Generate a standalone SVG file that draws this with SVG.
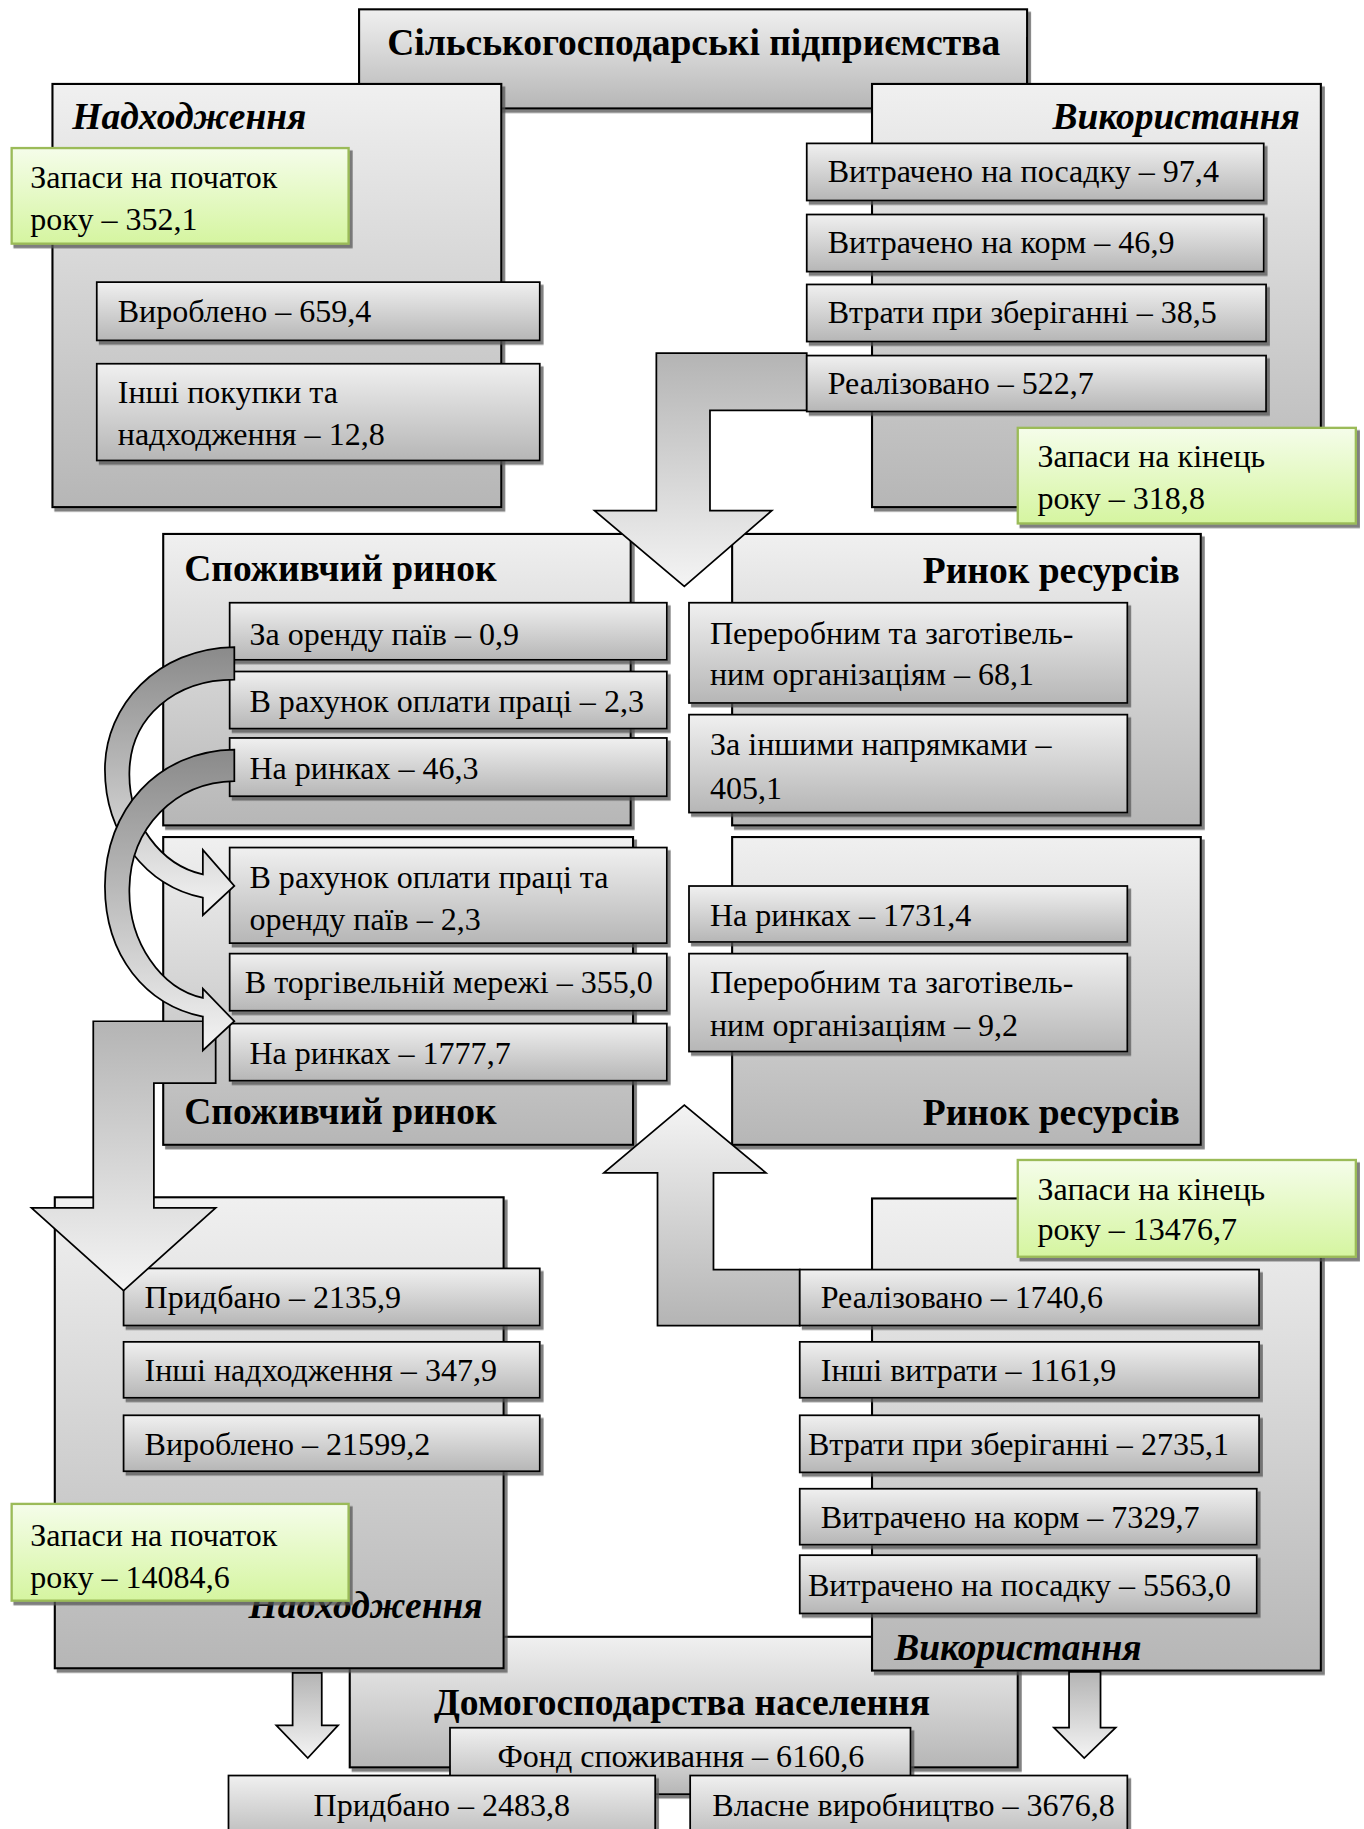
<svg xmlns="http://www.w3.org/2000/svg" width="1364" height="1829" viewBox="0 0 1364 1829">
<defs>
<linearGradient id="gBox" x1="0" y1="0" x2="0" y2="1"><stop offset="0" stop-color="#f0f0f0"/><stop offset="1" stop-color="#b6b6b6"/></linearGradient>
<linearGradient id="gGreen" x1="0" y1="0" x2="0" y2="1"><stop offset="0" stop-color="#f5fdea"/><stop offset="1" stop-color="#d5f5a0"/></linearGradient>
<linearGradient id="gDown" x1="0" y1="0" x2="0" y2="1"><stop offset="0" stop-color="#b4b4b4"/><stop offset="1" stop-color="#f4f4f4"/></linearGradient>
<linearGradient id="gUp" x1="0" y1="1" x2="0" y2="0"><stop offset="0" stop-color="#b4b4b4"/><stop offset="1" stop-color="#f4f4f4"/></linearGradient>
<linearGradient id="gCurve" x1="0" y1="0" x2="0" y2="1"><stop offset="0" stop-color="#8a8a8a"/><stop offset="0.45" stop-color="#b8b8b8"/><stop offset="1" stop-color="#f4f4f4"/></linearGradient>
<filter id="sh" x="-5%" y="-5%" width="115%" height="120%"><feDropShadow dx="2.5" dy="3" stdDeviation="0.6" flood-color="#555" flood-opacity="0.75"/></filter>
<clipPath id="clipUse"><rect x="748" y="1028" width="385" height="405"/></clipPath>
<style>
.cont{fill:url(#gBox);stroke:#000;stroke-width:1.8;filter:url(#sh)}
.item{fill:url(#gBox);stroke:#000;stroke-width:1.5;filter:url(#sh)}
.green{fill:url(#gGreen);stroke:#9bbb59;stroke-width:2;filter:url(#sh)}
.arr{stroke:#000;stroke-width:1.5;stroke-linejoin:miter}
text{font-family:"Liberation Serif","Times New Roman",serif;fill:#000}
.t{font-size:27.5px}
.h{font-size:32.2px;font-weight:bold}
.hi{font-size:32.2px;font-weight:bold;font-style:italic}
</style>
</defs>
<rect width="1364" height="1829" fill="#fff"/>
<g transform="scale(1.16581)">

<g id="enterprises">
<rect class="cont" x="308" y="8" width="573" height="85"/>
<text class="h" x="595" y="47" text-anchor="middle">Сільськогосподарські підприємства</text>
</g>

<g id="income-top">
<rect class="cont" x="45" y="72" width="385" height="363"/>
<text class="hi" x="62" y="111">Надходження</text>
</g>
<g id="stock-begin-top">
<rect class="green" x="10" y="127" width="289" height="82"/>
<text class="t" x="26" y="161">Запаси на початок</text>
<text class="t" x="26" y="197">року – 352,1</text>
</g>
<g id="produced-top">
<rect class="item" x="83" y="242" width="380" height="50"/>
<text class="t" x="101" y="276">Вироблено – 659,4</text>
</g>
<g id="other-income-top">
<rect class="item" x="83" y="312" width="380" height="83"/>
<text class="t" x="101" y="346">Інші покупки та</text>
<text class="t" x="101" y="382">надходження – 12,8</text>
</g>

<g id="use-top">
<rect class="cont" x="748" y="72" width="385" height="363"/>
<text class="hi" x="1115" y="111" text-anchor="end">Використання</text>
</g>
<g id="planting-top">
<rect class="item" x="692" y="123" width="392" height="49"/>
<text class="t" x="710" y="156">Витрачено на посадку – 97,4</text>
</g>
<g id="feed-top">
<rect class="item" x="692" y="184" width="392" height="49"/>
<text class="t" x="710" y="217">Витрачено на корм – 46,9</text>
</g>
<g id="losses-top">
<rect class="item" x="692" y="244" width="394" height="49"/>
<text class="t" x="710" y="277">Втрати при зберіганні – 38,5</text>
</g>
<g id="stock-end-top">
<rect class="green" x="873" y="367" width="290" height="82"/>
<text class="t" x="890" y="401">Запаси на кінець</text>
<text class="t" x="890" y="437">року – 318,8</text>
</g>

<g id="consumer-top">
<rect class="cont" x="140" y="458" width="401" height="250"/>
<text class="h" x="158" y="498">Споживчий ринок</text>
</g>
<g id="resource-top">
<rect class="cont" x="628" y="458" width="402" height="250"/>
<text class="h" x="1012" y="500" text-anchor="end">Ринок ресурсів</text>
</g>
<g id="rent-top">
<rect class="item" x="197" y="517" width="375" height="49"/>
<text class="t" x="214" y="553">За оренду паїв – 0,9</text>
</g>
<g id="wages-top">
<rect class="item" x="197" y="576" width="375" height="49"/>
<text class="t" x="214" y="611">В рахунок оплати праці – 2,3</text>
</g>
<g id="markets-top">
<rect class="item" x="197" y="633" width="375" height="50"/>
<text class="t" x="214" y="668">На ринках – 46,3</text>
</g>
<g id="processors-top">
<rect class="item" x="591" y="517" width="376" height="86"/>
<text class="t" x="609" y="552">Переробним та заготівель-</text>
<text class="t" x="609" y="588">ним організаціям – 68,1</text>
</g>
<g id="other-dir-top">
<rect class="item" x="591" y="613" width="376" height="84"/>
<text class="t" x="609" y="648">За іншими напрямками –</text>
<text class="t" x="609" y="685">405,1</text>
</g>

<g id="consumer-bottom">
<rect class="cont" x="140" y="718" width="403" height="264"/>
<text class="h" x="158" y="964">Споживчий ринок</text>
</g>
<g id="resource-bottom">
<rect class="cont" x="628" y="718" width="402" height="264"/>
<text class="h" x="1012" y="965" text-anchor="end">Ринок ресурсів</text>
</g>
<g id="wages-rent-bottom">
<rect class="item" x="197" y="727" width="375" height="82"/>
<text class="t" x="214" y="762">В рахунок оплати праці та</text>
<text class="t" x="214" y="798">оренду паїв – 2,3</text>
</g>
<g id="retail-bottom">
<rect class="item" x="197" y="818" width="375" height="49"/>
<text class="t" x="210" y="852">В торгівельній мережі – 355,0</text>
</g>
<g id="markets-bottom">
<rect class="item" x="197" y="878" width="375" height="49"/>
<text class="t" x="214" y="913">На ринках – 1777,7</text>
</g>
<g id="markets-res-bottom">
<rect class="item" x="591" y="760" width="376" height="48"/>
<text class="t" x="609" y="794">На ринках – 1731,4</text>
</g>
<g id="processors-bottom">
<rect class="item" x="591" y="818" width="376" height="84"/>
<text class="t" x="609" y="852">Переробним та заготівель-</text>
<text class="t" x="609" y="889">ним організаціям – 9,2</text>
</g>

<g id="households">
<rect class="cont" x="300" y="1404" width="573" height="112"/>
<text class="h" x="585" y="1471" text-anchor="middle">Домогосподарства населення</text>
</g>

<g id="income-bottom">
<rect class="cont" x="47" y="1027" width="385" height="404"/>
<text class="hi" x="414" y="1388" text-anchor="end">Надходження</text>
</g>
<g id="bought-bottom">
<rect class="item" x="106" y="1088" width="357" height="49"/>
<text class="t" x="124" y="1122">Придбано – 2135,9</text>
</g>
<g id="other-income-bottom">
<rect class="item" x="106" y="1151" width="357" height="48"/>
<text class="t" x="124" y="1185">Інші надходження – 347,9</text>
</g>
<g id="produced-bottom">
<rect class="item" x="106" y="1214" width="357" height="48"/>
<text class="t" x="124" y="1248">Вироблено – 21599,2</text>
</g>
<g id="stock-begin-bottom">
<rect class="green" x="10" y="1290" width="289" height="83"/>
<text class="t" x="26" y="1326">Запаси на початок</text>
<text class="t" x="26" y="1362">року – 14084,6</text>
</g>

<g id="use-bottom">
<rect class="cont" x="748" y="1028" width="385" height="405"/>
<text class="hi" x="767" y="1424" clip-path="url(#clipUse)">Використання</text>
</g>
<g id="stock-end-bottom">
<rect class="green" x="873" y="995" width="290" height="83"/>
<text class="t" x="890" y="1029">Запаси на кінець</text>
<text class="t" x="890" y="1064">року – 13476,7</text>
</g>

<g id="connectors">
<path class="arr" fill="url(#gDown)" d="M692,303 L563,303 L563,438 L510,438 L587,503 L662,438 L609,438 L609,352 L692,352 Z"/>
<path class="arr" fill="url(#gDown)" d="M185,876 L80,876 L80,1036 L27,1036 L106,1107 L185,1036 L132,1036 L132,929 L185,929 Z"/>
<path class="arr" fill="url(#gUp)" d="M686,1089 L612,1089 L612,1006 L657,1006 L587,948 L518,1006 L564,1006 L564,1137 L686,1137 Z"/>
<path class="arr" fill="url(#gCurve)" d="M201,555 C135,556 90,605 90,660 C90,715 125,760 174,770 L174,785 L201,760 L174,729 L174,750 C138,742 110,705 111,662 C112,615 150,583 201,583 Z"/>
<path class="arr" fill="url(#gCurve)" d="M201,643 C135,644 90,695 90,760 C90,820 125,862 174,872 L174,901 L201,876 L174,848 L174,856 C138,848 110,808 111,762 C112,710 150,671 201,670 Z"/>
<path class="arr" fill="url(#gDown)" d="M251,1435 L276,1435 L276,1480 L290,1480 L264,1508 L237,1480 L251,1480 Z"/>
<path class="arr" fill="url(#gDown)" d="M917,1434 L944,1434 L944,1482 L957,1482 L930,1508 L904,1482 L917,1482 Z"/>
</g>

<g id="realized-top">
<rect class="item" x="692" y="305" width="394" height="48"/>
<text class="t" x="710" y="338">Реалізовано – 522,7</text>
</g>
<g id="realized-bottom">
<rect class="item" x="686" y="1089" width="394" height="48"/>
<text class="t" x="704" y="1122">Реалізовано – 1740,6</text>
</g>
<g id="other-exp-bottom">
<rect class="item" x="686" y="1151" width="394" height="48"/>
<text class="t" x="704" y="1185">Інші витрати – 1161,9</text>
</g>
<g id="losses-bottom">
<rect class="item" x="686" y="1214" width="394" height="49"/>
<text class="t" x="693" y="1248">Втрати при зберіганні – 2735,1</text>
</g>
<g id="feed-bottom">
<rect class="item" x="686" y="1277" width="392" height="48"/>
<text class="t" x="704" y="1311">Витрачено на корм – 7329,7</text>
</g>
<g id="planting-bottom">
<rect class="item" x="686" y="1334" width="392" height="50"/>
<text class="t" x="693" y="1369">Витрачено на посадку – 5563,0</text>
</g>

<g id="fund">
<rect class="item" x="386" y="1482" width="395" height="57"/>
<text class="t" x="584" y="1516" text-anchor="middle">Фонд споживання – 6160,6</text>
</g>
<g id="bought-hh">
<rect class="item" x="196" y="1523" width="366" height="60"/>
<text class="t" x="379" y="1558" text-anchor="middle">Придбано – 2483,8</text>
</g>
<g id="own-prod">
<rect class="item" x="592" y="1523" width="375" height="60"/>
<text class="t" x="611" y="1558">Власне виробництво – 3676,8</text>
</g>

</g>
</svg>
